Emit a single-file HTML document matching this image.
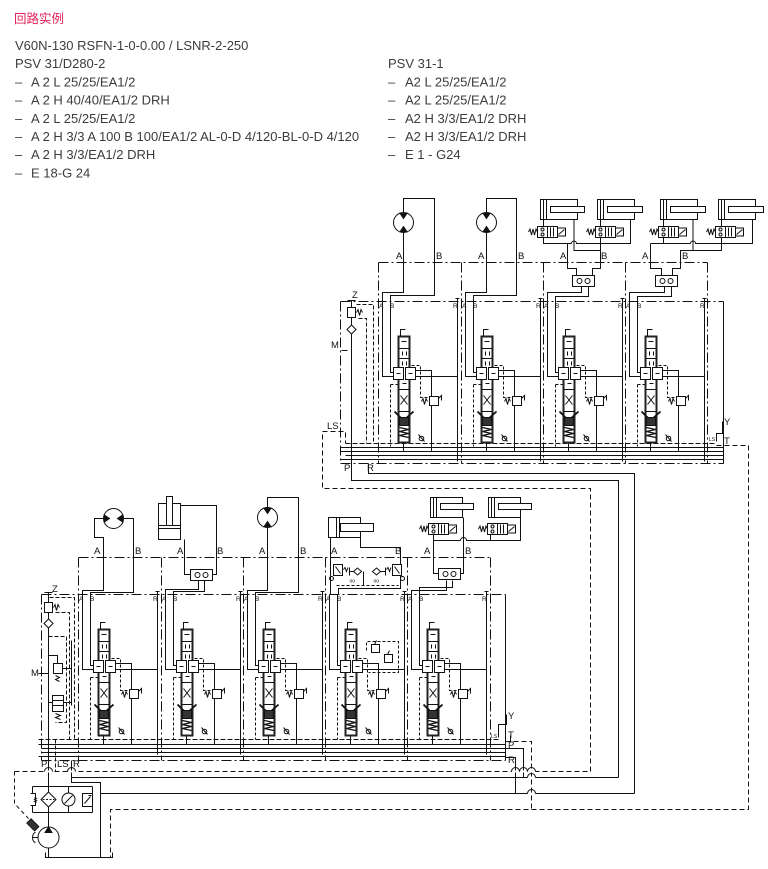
<!DOCTYPE html>
<html><head><meta charset="utf-8">
<style>
html,body{margin:0;padding:0;background:#fff;}
body{width:768px;height:869px;overflow:hidden;position:relative;}
svg{position:absolute;left:0;top:0;}
.t{font-family:"Liberation Sans",Arial,sans-serif;font-size:13px;fill:#3c3c3c;}
.l{font-family:"Liberation Sans",Arial,sans-serif;font-size:9.5px;fill:#111;stroke:none;}
.p{font-family:"Liberation Sans",Arial,sans-serif;font-size:6.5px;fill:#111;stroke:none;}
.q{font-family:"Liberation Sans",Arial,sans-serif;font-size:5px;fill:#111;stroke:none;}
</style></head><body>
<svg width="768" height="869" viewBox="0 0 768 869" xmlns="http://www.w3.org/2000/svg">
<defs>
<g id="sec" fill="none" stroke="#111" stroke-width="1">
 <path d="M79 -3V160M77 -3H81"/>
 <path d="M4 0V75H79"/>
 <path d="M12 0V71H16"/>
 <path d="M12 83H20M12 83V145M33 64H42V96H49" stroke-dasharray="3 2"/>
 <path d="M37 69H53V150"/>
 <rect x="20" y="35" width="11" height="106" fill="#fff" stroke="#222" stroke-width="2"/>
 <path d="M22 35V28H27"/>
 <path d="M20 47H31M20 57H31M20 88H31M20 110H31"/>
 <path d="M23 40h5M24 50v4M28 50v4M24 60v4M28 60v4M24 82h4"/>
 <rect x="15" y="66" width="10" height="12" fill="#fff"/>
 <rect x="27" y="66" width="10" height="12" fill="#fff"/>
 <path d="M18 72h4M30 72h4"/>
 <path d="M22 94L29 103M29 94L22 103"/>
 <path d="M16 110L25 119L35 110" stroke-width="1.8"/>
 <rect x="21" y="116" width="9" height="8" fill="#333"/>
 <path d="M21 126l9 2-9 2 9 2-9 2 9 2" stroke-width="1.3"/>
 <path d="M25 141V150"/>
 <rect x="51" y="95" width="9" height="9" fill="#fff"/>
 <path d="M43 100l1.5-3 1.5 6 1.5-6 1.5 3"/>
 <path d="M60 97l3-3v5"/>
 <circle cx="43" cy="137" r="2.3"/>
 <path d="M40 133l6 7"/>
</g>
<g id="valve" fill="none" stroke="#111" stroke-width="1">
 <rect x="0" y="0" width="10" height="11" fill="#fff"/>
 <circle cx="5" cy="3" r="1.5"/><circle cx="5" cy="8" r="1.5"/>
 <rect x="10" y="0" width="10" height="11" fill="#fff"/>
 <path d="M13 1V10M16 1V10"/>
 <rect x="20" y="1.5" width="8" height="8" fill="#fff"/>
 <path d="M21 8L27 3"/>
 <path d="M-9 5.5l1.5-3 1.5 6 1.5-6 1.5 6 1.5-6 1.5 3"/>
</g>
<g id="box" fill="none" stroke="#111" stroke-width="1">
 <rect x="0" y="0" width="22" height="11" fill="#fff"/>
 <circle cx="7" cy="5.5" r="2.5"/><circle cx="15" cy="5.5" r="2.5"/>
</g>
</defs>

<!-- header text -->
<text x="14" y="23" style="font-family:'Liberation Sans','Noto Sans CJK SC',sans-serif;font-size:12.5px;fill:#e3225a">回路实例</text>
<text class="t" x="15" y="50">V60N-130 RSFN-1-0-0.00 / LSNR-2-250</text>
<text class="t" x="15" y="68">PSV 31/D280-2</text>
<text class="t" x="15" y="86.5">–</text><text class="t" x="31" y="86.5">A 2 L 25/25/EA1/2</text>
<text class="t" x="15" y="104.5">–</text><text class="t" x="31" y="104.5">A 2 H 40/40/EA1/2 DRH</text>
<text class="t" x="15" y="123">–</text><text class="t" x="31" y="123">A 2 L 25/25/EA1/2</text>
<text class="t" x="15" y="141">–</text><text class="t" x="31" y="141">A 2 H 3/3 A 100 B 100/EA1/2 AL-0-D 4/120-BL-0-D 4/120</text>
<text class="t" x="15" y="159">–</text><text class="t" x="31" y="159">A 2 H 3/3/EA1/2 DRH</text>
<text class="t" x="15" y="177.5">–</text><text class="t" x="31" y="177.5">E 18-G 24</text>

<text class="t" x="388" y="68">PSV 31-1</text>
<text class="t" x="388" y="86.5">–</text><text class="t" x="405" y="86.5">A2 L 25/25/EA1/2</text>
<text class="t" x="388" y="104.5">–</text><text class="t" x="405" y="104.5">A2 L 25/25/EA1/2</text>
<text class="t" x="388" y="123">–</text><text class="t" x="405" y="123">A2 H 3/3/EA1/2 DRH</text>
<text class="t" x="388" y="141">–</text><text class="t" x="405" y="141">A2 H 3/3/EA1/2 DRH</text>
<text class="t" x="388" y="159">–</text><text class="t" x="405" y="159">E 1 - G24</text>

<g fill="none" stroke="#111" stroke-width="1" transform="translate(0.5 0.5)">
<!-- ================= UPPER BLOCK ================= -->
<path d="M378 262H707M340 301H723M378 262V463M461 262V463M543 262V463M625 262V463M707 262V463M340 301V463" stroke-dasharray="10 3 2 3"/>
<path d="M723 301V463"/>
<path d="M345 443H716" stroke-dasharray="5 2"/>
<path d="M340 447H723M340 451H723M345 455H723M340 459H723"/>
<path d="M340 463H723" stroke-dasharray="10 3 2 3"/>
<use href="#sec" x="378" y="301"/>
<use href="#sec" x="461" y="301"/>
<use href="#sec" x="543" y="301"/>
<use href="#sec" x="625" y="301"/>

<!-- upper motors -->
<path d="M403 232V292H382V301M403 212V198H434V295H390V301"/>
<circle cx="403" cy="222" r="10" fill="#fff"/>
<path d="M399.5 212.8H406.5L403 218ZM399.5 231.2H406.5L403 226Z" fill="#111"/>
<path d="M486 232V292H465V301M486 212V198H516V295H473V301"/>
<circle cx="486" cy="222" r="10" fill="#fff"/>
<path d="M482.5 212.8H489.5L486 218ZM482.5 231.2H489.5L486 226Z" fill="#111"/>

<!-- upper cylinder pair 1 -->
<path d="M543 219V243H571"/>
<path d="M571 243a2.5 2.5 0 0 1 5 0H630V219"/>
<path d="M567 243V268H576V275"/>
<path d="M573.5 219V250H600"/>
<path d="M600 219V268H592V275"/>
<path d="M581 286V292H547V301M588 286V296H555V301"/>
<rect x="540" y="199" width="37" height="20" fill="#fff"/>
<path d="M543 199V219M546 199V219"/>
<rect x="550" y="206" width="34" height="6" fill="#fff"/>
<rect x="597" y="199" width="37" height="20" fill="#fff"/>
<path d="M600 199V219M603 199V219"/>
<rect x="607" y="206" width="35" height="6" fill="#fff"/>
<use href="#valve" x="537" y="226"/>
<use href="#valve" x="595" y="226"/>
<use href="#box" x="572" y="275"/>

<!-- upper cylinder pair 2 -->
<path d="M663 219V243M650 243H690"/>
<path d="M690 243a2.5 2.5 0 0 1 5 0H752V219"/>
<path d="M650 243V268H661V275"/>
<path d="M692.5 219V250"/>
<path d="M721 219V250H680V268H672V275"/>
<path d="M664 286V292H629V301M671 286V296H637V301"/>
<rect x="660" y="199" width="37" height="20" fill="#fff"/>
<path d="M663 199V219M666 199V219"/>
<rect x="670" y="206" width="35" height="6" fill="#fff"/>
<rect x="718" y="199" width="37" height="20" fill="#fff"/>
<path d="M721 199V219M724 199V219"/>
<rect x="728" y="206" width="35" height="6" fill="#fff"/>
<use href="#valve" x="658" y="226"/>
<use href="#valve" x="715" y="226"/>
<use href="#box" x="655" y="275"/>

<!-- upper inlet -->
<path d="M347 300H355M351 300V480H618V777"/>
<rect x="347" y="307" width="8" height="10" fill="#fff"/>
<path d="M356 312l1.5-3 1.5 6 1.5-6 1.5 3"/>
<path d="M351 324.5L355.5 329L351 333.5L346.5 329Z" fill="#fff"/>
<path d="M356 304H373V443M358 318H366V443" stroke-dasharray="4 2"/>
<path d="M341 350H347"/>
<path d="M590 771V488H322V431H345V443" stroke-dasharray="5 3"/>
<path d="M368 463V473H634V793"/>
<path d="M716 441V433H722V421"/>
<path d="M723 437V447"/>
<path d="M716 445H748V809H110V857" stroke-dasharray="5 3"/>

<!-- ================= LOWER BLOCK ================= -->
<path d="M78 557H490M41 594H505M78 557V760M161 557V760M243 557V760M325 557V760M407 557V760M490 557V760M41 594V760" stroke-dasharray="10 3 2 3"/>
<path d="M505 594V760"/>
<path d="M38 739H500" stroke-dasharray="5 2"/>
<path d="M38 744H505M41 748H505M41 752H505M38 756H505"/>
<path d="M41 760H505" stroke-dasharray="10 3 2 3"/>
<use href="#sec" x="78" y="594"/>
<use href="#sec" x="161" y="594"/>
<use href="#sec" x="243" y="594"/>
<use href="#sec" x="325" y="594"/>
<use href="#sec" x="407" y="594"/>

<!-- sec1 motor -->
<path d="M103 518H94V537H103V590H82V594M123 518H133V592H90V594"/>
<circle cx="113" cy="518" r="10" fill="#fff"/>
<path d="M103.8 514.5V521.5L109 518ZM122.2 514.5V521.5L117 518Z" fill="#111"/>

<!-- sec2 cylinder -->
<path d="M180 505H216V574H212M184 539V574H190"/>
<path d="M198 580V589H165V594M204 580V591H173V594"/>
<rect x="158" y="503" width="22" height="36" fill="#fff"/>
<path d="M158 525H180M158 528H180"/>
<rect x="166" y="496" width="6" height="29" fill="#fff"/>
<use href="#box" x="190" y="569"/>

<!-- sec3 motor -->
<path d="M267 527V590H247V594M267 507V497H298V592H255V594"/>
<circle cx="267" cy="517" r="10" fill="#fff"/>
<path d="M263.5 507.8H270.5L267 513ZM263.5 526.2H270.5L267 521Z" fill="#111"/>

<!-- sec4 cylinder + counterbalance -->
<path d="M330 537V594M360 537V547H400V588H338V594"/>
<rect x="328" y="517" width="32" height="20" fill="#fff"/>
<path d="M336 517V537M339 517V537"/>
<rect x="340" y="523" width="33" height="8" fill="#fff"/>
<rect x="333" y="564" width="9" height="11" fill="#fff"/>
<path d="M335 566l5 7M343 569l1.5-2 1.5 4 1.5-4"/>
<circle cx="331" cy="578" r="2"/>
<rect x="392" y="564" width="9" height="11" fill="#fff"/>
<path d="M394 566l5 7M386 569l1.5-2 1.5 4 1.5-4"/>
<circle cx="402" cy="578" r="2"/>
<path d="M349 567V575M349 571H353M353 571L357 567.5L361 571L357 574.5Z"/>
<path d="M372 571L376 567.5L380 571L376 574.5ZM380 571H385M385 567V575"/>
<path d="M336 585H398" stroke-dasharray="3 2"/>
<path d="M363 571V585"/>
<text class="q" x="349" y="582">oo</text><text class="q" x="373" y="582">oo</text>
<path d="M366 650V641H398V672H368" stroke-dasharray="3 2"/>
<rect x="371" y="644" width="8" height="8" fill="#fff"/>
<rect x="384" y="654" width="8" height="8" fill="#fff"/>
<path d="M374 644l2-4M387 654l2-4"/>

<!-- sec5 cylinder pair -->
<path d="M433 534V573H438M433 540H460"/>
<path d="M460 540a3 3 0 0 1 6 0H520V517"/>
<path d="M490 534V540M463 517V573H460"/>
<path d="M446 580V590H411V594M452 580V587H419V594"/>
<rect x="430" y="497" width="32" height="20" fill="#fff"/>
<path d="M433 497V517M436 497V517"/>
<rect x="440" y="503" width="33" height="6" fill="#fff"/>
<rect x="488" y="497" width="32" height="20" fill="#fff"/>
<path d="M491 497V517M494 497V517"/>
<rect x="498" y="503" width="33" height="6" fill="#fff"/>
<use href="#valve" x="428" y="523"/>
<use href="#valve" x="487" y="523"/>
<use href="#box" x="438" y="568"/>

<!-- lower inlet -->
<path d="M44 592H52M48 592V826"/>
<rect x="44" y="602" width="8" height="10" fill="#fff"/>
<path d="M53 607l1.5-3 1.5 6 1.5-6 1.5 3"/>
<path d="M48 618.5L52.5 623L48 627.5L43.5 623Z" fill="#fff"/>
<path d="M49 597H74V739M55 612H69V739M48 636H66V722H55" stroke-dasharray="4 2"/>
<path d="M38 673H48M48 655H57V663"/>
<rect x="53" y="663" width="9" height="10" fill="#fff"/>
<path d="M55 675l4 2-4 2 4 2"/>
<path d="M62 668H71M71 640V705M48 702H52M63 702H71"/>
<rect x="52" y="695" width="11" height="16" fill="#fff"/>
<path d="M52 700H63M52 705H63M55 713l5 2-5 2 5 2"/>
<path d="M55 739V771" stroke-dasharray="4 2"/>
<path d="M71 760V782H100V857"/>
<path d="M498 737V724H506V714"/>
<path d="M510 735V742"/>
<path d="M505 741H531V809" stroke-dasharray="5 3"/>
<path d="M505 748H523V777M505 757H515V793"/>

<!-- long connecting lines -->
<path d="M14 771H590" stroke-dasharray="5 3"/>
<path d="M14 771V803L28 818" stroke-dasharray="4 3"/>
<path d="M71 777H618"/>
<path d="M100 793H634"/>
<path d="M44 771H52M67 771H75M511 771H519M519.5 771H527M527.5 771H535" stroke="#fff" stroke-width="2"/>
<path d="M44 771a4 4 0 0 1 8 0M67 771a4 4 0 0 1 8 0M511 771a4 4 0 0 1 8 0M519 771a4 4 0 0 1 8 0M527 771a4 4 0 0 1 8 0"/>
<path d="M527 777H535M527 793H535" stroke="#fff" stroke-width="2"/>
<path d="M527 777a4 4 0 0 1 8 0M527 793a4 4 0 0 1 8 0"/>

<!-- pump unit -->
<path d="M32 786H92M32 812H92M32 786V793M32 805V812M92 786V793M92 806V812"/>
<path d="M30 793h5v12h-5M34 797l2 1-2 1 2 1-2 1 2 1"/>
<path d="M48 791.5L55.5 799L48 806.5L40.5 799Z" fill="#fff"/>
<path d="M42 799H54" stroke-dasharray="2 1.5"/>
<path d="M68 786V792.5M68 805.5V812"/>
<circle cx="68" cy="799" r="6.5" fill="#fff"/>
<path d="M64 803L72 795"/>
<rect x="82" y="793" width="10" height="13" fill="#fff"/>
<path d="M84 803L90 796M88 795h3"/>
<circle cx="48" cy="837" r="10.5" fill="#fff"/>
<path d="M48 826.5L44.5 832H51.5Z" fill="#111"/>
<path d="M35 832a3 5 0 0 0 0 10M32 837H38"/>
<g transform="rotate(45 32 824)"><rect x="27" y="821" width="11" height="6" fill="#333"/></g>
<path d="M48 847.5V857M45 852V857H112V852"/>
</g>

<!-- labels -->
<g>
<text class="l" x="396" y="259">A</text><text class="l" x="436" y="259">B</text>
<text class="l" x="478" y="259">A</text><text class="l" x="518" y="259">B</text>
<text class="l" x="560" y="259">A</text><text class="l" x="601" y="259">B</text>
<text class="l" x="642" y="259">A</text><text class="l" x="682" y="259">B</text>

<text class="l" x="94" y="554">A</text><text class="l" x="135" y="554">B</text>
<text class="l" x="177" y="554">A</text><text class="l" x="217" y="554">B</text>
<text class="l" x="259" y="554">A</text><text class="l" x="300" y="554">B</text>
<text class="l" x="331" y="554">A</text><text class="l" x="395" y="554">B</text>
<text class="l" x="424" y="554">A</text><text class="l" x="465" y="554">B</text>

<text class="p" x="379" y="308">A</text><text class="p" x="390" y="308">B</text><text class="p" x="453" y="308">R</text>
<text class="p" x="462" y="308">A</text><text class="p" x="473" y="308">B</text><text class="p" x="536" y="308">R</text>
<text class="p" x="544" y="308">A</text><text class="p" x="555" y="308">B</text><text class="p" x="618" y="308">R</text>
<text class="p" x="626" y="308">A</text><text class="p" x="637" y="308">B</text><text class="p" x="700" y="308">R</text>

<text class="p" x="79" y="601">A</text><text class="p" x="90" y="601">B</text><text class="p" x="153" y="601">R</text>
<text class="p" x="162" y="601">A</text><text class="p" x="173" y="601">B</text><text class="p" x="236" y="601">R</text>
<text class="p" x="244" y="601">A</text><text class="p" x="255" y="601">B</text><text class="p" x="318" y="601">R</text>
<text class="p" x="326" y="601">A</text><text class="p" x="337" y="601">B</text><text class="p" x="400" y="601">R</text>
<text class="p" x="408" y="601">A</text><text class="p" x="419" y="601">B</text><text class="p" x="482" y="601">R</text>

<text class="l" x="352" y="298">Z</text>
<text class="l" x="331" y="348">M</text>
<text class="l" x="327" y="429">LS</text>
<text class="l" x="344" y="471">P</text>
<text class="l" x="367" y="471">R</text>
<text class="l" x="724" y="425">Y</text>
<text class="l" x="724" y="444">T</text>
<text class="q" x="709" y="441">LS</text>

<text class="l" x="52" y="592">Z</text>
<text class="l" x="31" y="676">M</text>
<text class="l" x="41" y="767">P</text>
<text class="l" x="57" y="767">LS</text>
<text class="l" x="73" y="767">R</text>
<text class="l" x="508" y="719">Y</text>
<text class="l" x="508" y="738">T</text>
<text class="l" x="508" y="748">P</text>
<text class="l" x="508" y="763">R</text>
<text class="q" x="491" y="738">LS</text>
</g>
</svg>
</body></html>
